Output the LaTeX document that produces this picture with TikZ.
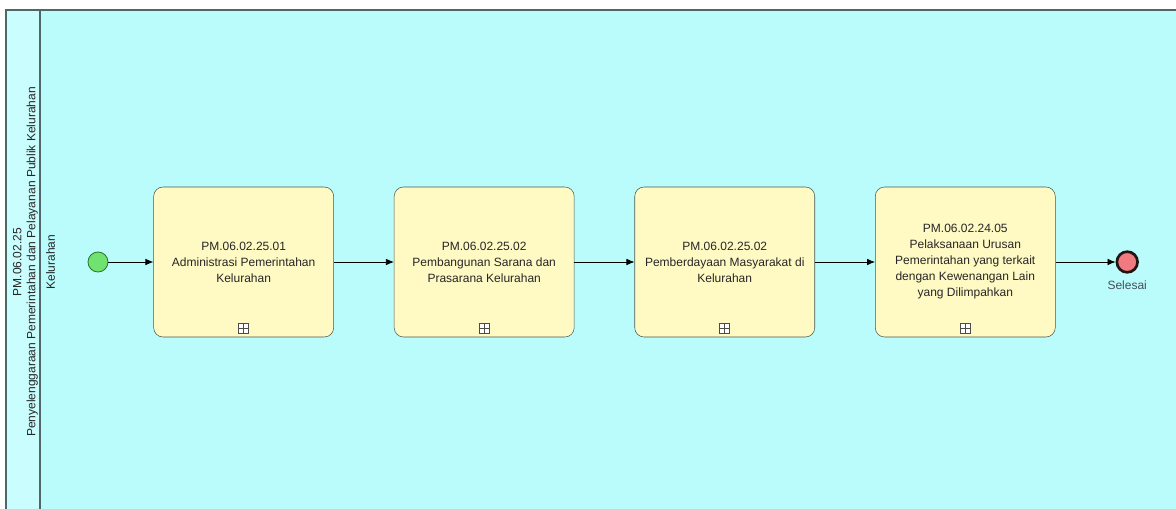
\documentclass[tikz,border=0pt]{standalone}
\usepackage{fontspec}
\setmainfont{Liberation Sans}
\usepackage{xcolor}
\usetikzlibrary{arrows.meta,positioning}
\definecolor{poolbg}{RGB}{186,252,252}
\definecolor{headbg}{RGB}{202,253,253}
\definecolor{poolline}{RGB}{78,104,104}
\definecolor{taskfill}{RGB}{255,250,196}
\definecolor{taskline}{RGB}{70,88,78}
\definecolor{startfill}{RGB}{112,226,112}
\definecolor{startline}{RGB}{40,118,40}
\definecolor{endfill}{RGB}{240,122,128}
\definecolor{endline}{RGB}{35,20,20}
\tikzset{
  task/.style={draw=taskline, fill=taskfill, rounded corners=7pt, align=center, minimum width=135pt, minimum height=112.5pt, inner sep=4pt, font=\fontsize{9}{12}\selectfont, text=black!85},
  startev/.style={circle, draw=startline, fill=startfill, minimum size=15pt, inner sep=0pt, line width=0.6pt},
  endev/.style={circle, draw=endline, fill=endfill, minimum size=15.5pt, inner sep=0pt, line width=2pt},
  flow/.style={-{Latex[length=6pt,width=5pt]}, line width=0.6pt},
  submark/.style={draw=black!70, fill=white, minimum size=7.5pt, inner sep=0pt, line width=0.4pt,
    path picture={\draw[black!70, line width=0.5pt] (path picture bounding box.north) -- (path picture bounding box.south) (path picture bounding box.west) -- (path picture bounding box.east);}}
}
\begin{document}
\begin{tikzpicture}[x=0.75pt, y=-0.75pt, node distance=45pt]
    \useasboundingbox (0,0) rectangle (1176,509);
    \fill[poolbg] (6,10) rectangle (1176,509);
    \fill[headbg] (6,10) rectangle (40,509);
    \draw[poolline, line width=1pt] (6,509) -- (6,10) -- (1176,10);
    \draw[poolline, line width=1.5pt] (40,10) -- (40,509);
    \node[rotate=90, align=center, font=\fontsize{9}{10.5}\selectfont, text=black!85] (lane) at (34,262) {PM.06.02.25\\Penyelenggaraan Pemerintahan dan Pelayanan Publik Kelurahan\\[4pt]Kelurahan};
    \node[startev] (start) at (98,262) {};
    \node[task, right=33.75pt of start] (adm) {PM.06.02.25.01\\Administrasi Pemerintahan\\Kelurahan};
    \node[task, right=of adm] (pemb) {PM.06.02.25.02\\Pembangunan Sarana dan\\Prasarana Kelurahan};
    \node[task, right=of pemb] (mas) {PM.06.02.25.02\\Pemberdayaan Masyarakat di\\Kelurahan};
    \node[task, right=of mas] (lain) {PM.06.02.24.05\\Pelaksanaan Urusan\\Pemerintahan yang terkait\\dengan Kewenangan Lain\\yang Dilimpahkan};
    \node[endev, right=of lain, label={[font=\fontsize{9}{10}\selectfont, text=black!75!cyan, label distance=2pt]below:Selesai}] (selesai) {};
    \foreach \t in {adm,pemb,mas,lain}
      \node[submark, above=2.5pt of \t.south] (\t-mark) {};
    \draw[flow] (start) -- (adm);
    \draw[flow] (adm) -- (pemb);
    \draw[flow] (pemb) -- (mas);
    \draw[flow] (mas) -- (lain);
    \draw[flow] (lain) -- (selesai);
\end{tikzpicture}
\end{document}
